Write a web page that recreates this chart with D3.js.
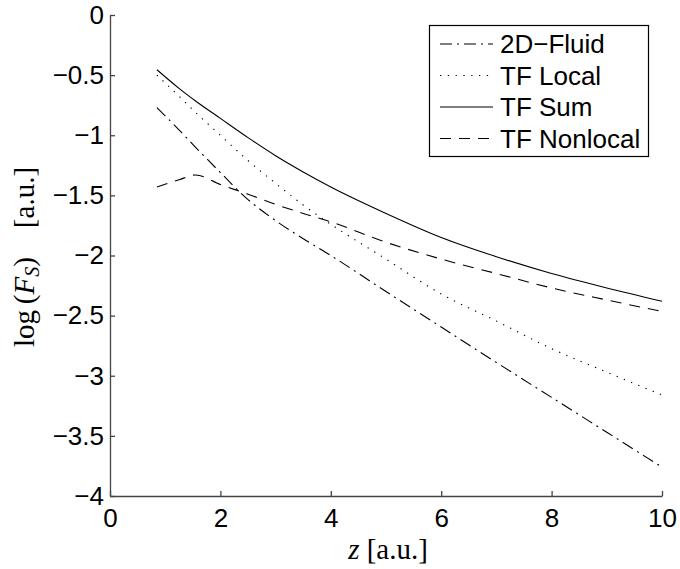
<!DOCTYPE html>
<html>
<head>
<meta charset="utf-8">
<script src="https://cdn.jsdelivr.net/npm/d3@7"></script>
<style>
  body { margin: 0; background: #fff; }
  svg { display: block; }
  .tick text { font-family: "Liberation Sans", Arial, sans-serif; font-size: 26px; fill: #000; }
</style>
</head>
<body>
<svg width="680" height="569"></svg>
<script>
const z = [0.85, 1.25, 1.55, 2, 2.5, 3, 3.5, 4, 5, 6, 7, 8, 9, 10];

const fluid2D  = [-0.77, -0.955, -1.10, -1.31, -1.535, -1.71, -1.86, -2.00, -2.30, -2.595, -2.89, -3.18, -3.47, -3.76];
const tfLocal  = [-0.50, -0.675, -0.81, -1.00, -1.21, -1.40, -1.58, -1.74, -2.03, -2.32, -2.545, -2.775, -2.97, -3.16];
const tfSum    = [-0.455, -0.61, -0.715, -0.86, -1.02, -1.17, -1.305, -1.43, -1.65, -1.85, -2.01, -2.15, -2.27, -2.38];
const tfNonloc = [-1.43, -1.37, -1.33, -1.41, -1.49, -1.575, -1.65, -1.72, -1.89, -2.03, -2.15, -2.27, -2.37, -2.465];

const xTicks = [0, 2, 4, 6, 8, 10];
const yTicks = [0, -0.5, -1, -1.5, -2, -2.5, -3, -3.5, -4];

const series = [
  { name: "2D\u2212Fluid", values: fluid2D, dash: "12,5,2,5" },
  { name: "TF Local", values: tfLocal, dash: "1.3,6.5" },
  { name: "TF Sum", values: tfSum, dash: null },
  { name: "TF Nonlocal", values: tfNonloc, dash: "11,8" }
];

const svg = d3.select("svg");
const plotLeft = 110, plotRight = 662, plotTop = 15, plotBottom = 496;

const x = d3.scaleLinear().domain([0, 10]).range([plotLeft, plotRight]);
const y = d3.scaleLinear().domain([-4, 0]).range([plotBottom, plotTop]);

const fmt = d => String(d).replace("-", "\u2212");

svg.append("g")
    .attr("transform", `translate(0,${plotBottom})`)
    .call(d3.axisBottom(x).tickValues(xTicks).tickFormat(fmt)
        .tickSizeInner(-5).tickSizeOuter(0).tickPadding(13));

svg.append("g")
    .attr("transform", `translate(${plotLeft},0)`)
    .call(d3.axisLeft(y).tickValues(yTicks).tickFormat(fmt)
        .tickSizeInner(-5).tickSizeOuter(0).tickPadding(6));

svg.selectAll(".domain, .tick line")
    .attr("stroke", "#444")
    .attr("stroke-width", 1.3);

const line = d3.line()
    .x((d, i) => x(z[i]))
    .y(d => y(d))
    .curve(d3.curveMonotoneX);

svg.selectAll("path.series")
    .data(series)
    .enter()
    .append("path")
    .attr("class", "series")
    .attr("d", d => line(d.values))
    .attr("fill", "none")
    .attr("stroke", "#000")
    .attr("stroke-width", 1.1)
    .attr("stroke-dasharray", d => d.dash);

// legend
const legend = svg.append("g");
legend.append("rect")
    .attr("x", 429.5).attr("y", 25.5)
    .attr("width", 219).attr("height", 131)
    .attr("fill", "#fff")
    .attr("stroke", "#000")
    .attr("stroke-width", 1.2);

const row = legend.selectAll("g.row")
    .data(series)
    .enter()
    .append("g")
    .attr("class", "row")
    .attr("transform", (d, i) => `translate(0,${44 + i * 31.5})`);

row.append("line")
    .attr("x1", 440).attr("x2", 493)
    .attr("y1", 0).attr("y2", 0)
    .attr("stroke", "#000")
    .attr("stroke-width", 1.1)
    .attr("stroke-dasharray", d => d.dash);

row.append("text")
    .attr("x", 500)
    .attr("y", 9)
    .attr("font-family", "Liberation Sans, Arial, sans-serif")
    .attr("font-size", 26)
    .text(d => d.name);

// axis labels
const serif = "Liberation Serif, Times New Roman, serif";

const xl = svg.append("text")
    .attr("x", 388)
    .attr("y", 559)
    .attr("text-anchor", "middle")
    .attr("font-family", serif)
    .attr("font-size", 29);
xl.append("tspan").attr("font-style", "italic").text("z");
xl.append("tspan").text(" [a.u.]");

const yl = svg.append("text")
    .attr("transform", "translate(34,257) rotate(-90)")
    .attr("text-anchor", "middle")
    .attr("font-family", serif)
    .attr("font-size", 29);
yl.append("tspan").text("log\u2009(");
yl.append("tspan").attr("font-style", "italic").text("F");
yl.append("tspan").attr("font-style", "italic").attr("font-size", 20).attr("dy", 5).text("S");
yl.append("tspan").attr("dy", -5).text(")\u2002\u2002[a.u.]");
</script>
</body>
</html>
